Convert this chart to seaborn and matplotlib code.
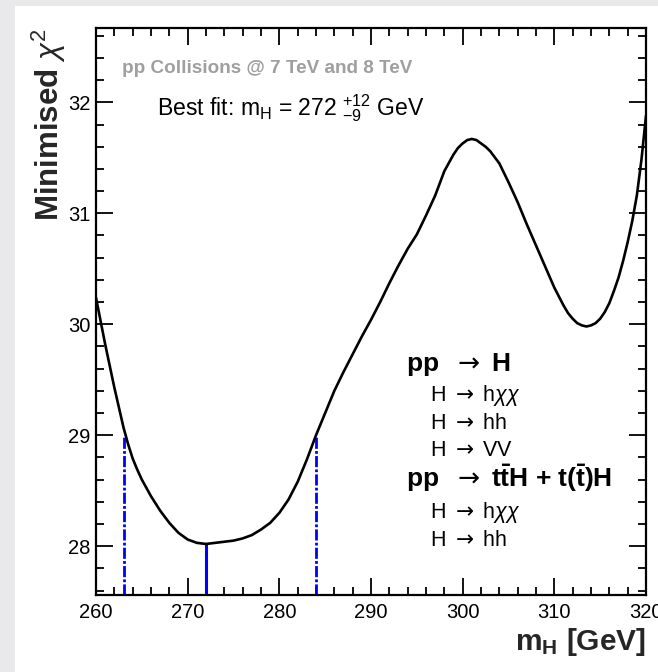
import matplotlib
matplotlib.use("Agg")
import matplotlib.pyplot as plt
import seaborn as sns
import pandas as pd
from matplotlib.patches import Rectangle
from matplotlib.ticker import MultipleLocator

# ---------------- data ----------------
mass = [260, 261, 262, 263, 263.5, 264, 264.5, 265, 266, 267, 268, 269,
        270, 271, 272, 273, 274, 275, 276, 277, 278, 279,
        280, 281, 282, 283, 284, 285, 286, 287, 288, 289,
        290, 291, 292, 293, 294, 295, 296, 297, 298, 299,
        299.5, 300, 300.5, 301, 301.5, 302, 302.5, 303, 304, 305, 306, 307, 308, 309,
        310, 311, 311.5, 312, 312.5, 313, 313.5, 314, 314.5, 315, 315.5,
        316, 316.5, 317, 317.5, 318, 318.5, 319, 319.5, 320]
chi2 = [30.24, 29.82, 29.43, 29.07, 28.92, 28.79, 28.69, 28.60, 28.45, 28.32, 28.21, 28.12,
        28.06, 28.03, 28.02, 28.03, 28.04, 28.05, 28.07, 28.10, 28.15, 28.21,
        28.30, 28.42, 28.58, 28.78, 29.00, 29.20, 29.40, 29.57, 29.73, 29.89,
        30.04, 30.20, 30.37, 30.53, 30.68, 30.81, 30.98, 31.16, 31.38, 31.53,
        31.59, 31.63, 31.66, 31.67, 31.66, 31.63, 31.60, 31.56, 31.45, 31.28, 31.10, 30.90, 30.71, 30.52,
        30.33, 30.17, 30.10, 30.05, 30.01, 29.99, 29.98, 29.99, 30.01, 30.05, 30.11,
        30.19, 30.30, 30.42, 30.57, 30.74, 30.93, 31.16, 31.48, 31.88]

best_mass = [272]
best_chi2 = [28.02]
interval_mass = [263, 284]
interval_chi2 = [29.0, 29.0]

x_range = [260, 320]
y_range = [27.56, 32.67]

ARROW = r"$\mathsf{\rightarrow}$"
title_text = "pp Collisions @ 7 TeV and 8 TeV"
fit_text = r"Best fit: m$_{\mathrm{H}}$ = 272 ${}^{+12}_{-9}$ GeV"
legend_lines = [
    ("pp  " + ARROW + " H", "bold"),
    ("H " + ARROW + " h$\\chi\\chi$", "normal"),
    ("H " + ARROW + " hh", "normal"),
    ("H " + ARROW + " VV", "normal"),
    ("pp  " + ARROW + " t$\\mathbf{\\bar{t}}$H + t($\\mathbf{\\bar{t}}$)H", "bold"),
    ("H " + ARROW + " h$\\chi\\chi$", "normal"),
    ("H " + ARROW + " hh", "normal"),
]
xlabel_text = r"m$_{\mathbf{H}}$ [GeV]"
ylabel_text = r"Minimised $\chi^{2}$"

# ---------------- style ----------------
sns.set_theme(style="ticks")
plt.rcParams["font.family"] = ["Liberation Sans", "DejaVu Sans"]
plt.rcParams["mathtext.fontset"] = "custom"
plt.rcParams["mathtext.rm"] = "Liberation Sans"
plt.rcParams["mathtext.it"] = "Liberation Sans:italic"
plt.rcParams["mathtext.bf"] = "Liberation Sans:bold"
plt.rcParams["mathtext.sf"] = "DejaVu Sans"

W, H = 658, 672
fig = plt.figure(figsize=(W / 100, H / 100), dpi=100)
fig.patch.set_facecolor("#e9e9ec")
fig.patches.append(Rectangle((15 / W, 0), 1 - 15 / W, 1 - 6 / H,
                             transform=fig.transFigure, facecolor="white",
                             edgecolor="none", zorder=-10))

ax = fig.add_axes([96 / W, 77 / H, 550 / W, 567 / H])
ax.set_facecolor("white")

df = pd.DataFrame({"mass": mass, "chi2": chi2})
sns.lineplot(data=df, x="mass", y="chi2", ax=ax, color="black", lw=1.9, zorder=3)

ax.set_xlim(*x_range)
ax.set_ylim(*y_range)

# blue best-fit and interval lines
ax.vlines(best_mass, y_range[0], best_chi2, colors="#0000ff", lw=2.2, zorder=2)
ax.vlines(interval_mass, y_range[0], interval_chi2, colors="#0000ff", lw=2.0,
          linestyles=(0, (4, 0.8, 1, 0.8)), zorder=2)

# ticks
ax.xaxis.set_major_locator(MultipleLocator(10))
ax.xaxis.set_minor_locator(MultipleLocator(2))
ax.yaxis.set_major_locator(MultipleLocator(1))
ax.yaxis.set_minor_locator(MultipleLocator(0.2))
ax.tick_params(which="both", direction="in", top=True, right=True,
               color="black", width=1.3, labelsize=14.5, labelcolor="black")
ax.tick_params(which="major", length=12)
ax.tick_params(which="minor", length=6)
ax.tick_params(axis="x", pad=6)
ax.tick_params(axis="y", pad=4)
for s in ax.spines.values():
    s.set_linewidth(1.6)
    s.set_color("black")

ax.set_xlabel(xlabel_text, fontsize=21.5, fontweight="bold", loc="right")
ax.xaxis.set_label_coords(1.0, -0.055)
ax.set_ylabel(ylabel_text, fontsize=22.5, fontweight="bold", loc="top")
ax.yaxis.set_label_coords(-0.05, 1.0)

def fy(py):
    return 1 - py / H

fig.text(122 / W, fy(73), title_text, fontsize=13.6, fontweight="bold",
         color="#9f9f9f", va="baseline", ha="left")
fig.text(157 / W, fy(115), fit_text, fontsize=16.6, color="black",
         va="baseline", ha="left")

leg_x = {"bold": 406, "normal": 430}
leg_y = [371, 401, 429, 456, 487, 518, 546]
for (txt, wt), py in zip(legend_lines, leg_y):
    fig.text(leg_x[wt] / W, fy(py), txt, fontsize=19 if wt == "bold" else 15.5,
             fontweight=wt, color="black", va="baseline", ha="left")

fig.savefig("out.png", dpi=100, facecolor=fig.get_facecolor())
